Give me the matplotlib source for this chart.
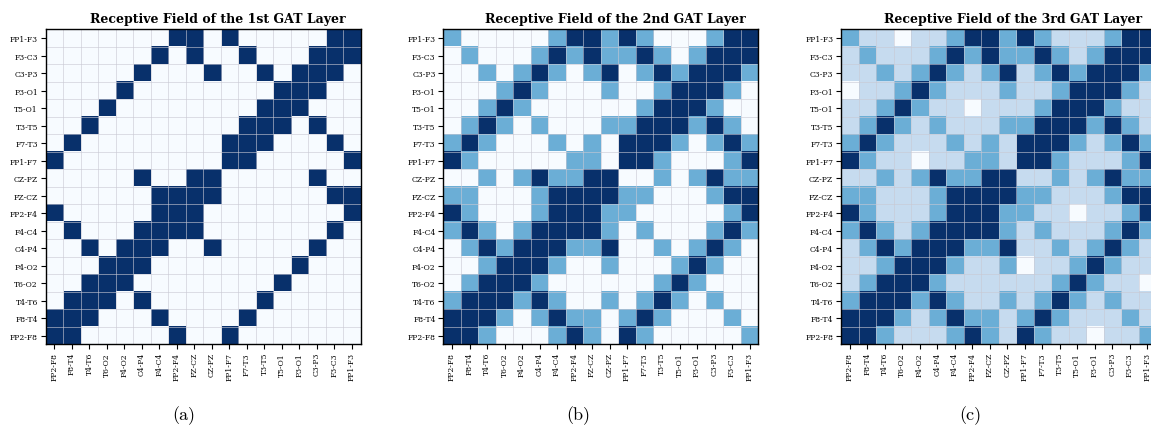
import matplotlib
matplotlib.use("Agg")
import matplotlib.pyplot as plt
from matplotlib.colors import ListedColormap, BoundaryNorm
import numpy as np

row_labels = ["FP1-F3", "F3-C3", "C3-P3", "P3-O1", "T5-O1", "T3-T5", "F7-T3", "FP1-F7",
              "CZ-PZ", "FZ-CZ", "FP2-F4", "F4-C4", "C4-P4", "P4-O2", "T6-O2", "T4-T6",
              "F8-T4", "FP2-F8"]
col_labels = row_labels[::-1]

titles = ["Receptive Field of the 1st GAT Layer",
          "Receptive Field of the 2nd GAT Layer",
          "Receptive Field of the 3rd GAT Layer"]
captions = ["(a)", "(b)", "(c)"]

layer1 = [
    [0,0,0,0,0,0,0,1,1,0,1,0,0,0,0,0,1,1],
    [0,0,0,0,0,0,1,0,1,0,0,1,0,0,0,1,1,1],
    [0,0,0,0,0,1,0,0,0,1,0,0,1,0,1,1,1,0],
    [0,0,0,0,1,0,0,0,0,0,0,0,0,1,1,1,0,0],
    [0,0,0,1,0,0,0,0,0,0,0,0,1,1,1,0,0,0],
    [0,0,1,0,0,0,0,0,0,0,0,1,1,1,0,1,0,0],
    [0,1,0,0,0,0,0,0,0,0,1,1,1,0,0,0,1,0],
    [1,0,0,0,0,0,0,0,0,0,1,1,0,0,0,0,0,1],
    [0,0,0,0,0,1,0,0,1,1,0,0,0,0,0,1,0,0],
    [0,0,0,0,0,0,1,1,1,1,0,0,0,0,0,0,1,1],
    [1,0,0,0,0,0,1,1,1,0,0,0,0,0,0,0,0,1],
    [0,1,0,0,0,1,1,1,1,0,0,0,0,0,0,0,1,0],
    [0,0,1,0,1,1,1,0,0,1,0,0,0,0,0,1,0,0],
    [0,0,0,1,1,1,0,0,0,0,0,0,0,0,1,0,0,0],
    [0,0,1,1,1,0,0,0,0,0,0,0,0,1,0,0,0,0],
    [0,1,1,1,0,1,0,0,0,0,0,0,1,0,0,0,0,0],
    [1,1,1,0,0,0,1,0,0,0,0,1,0,0,0,0,0,0],
    [1,1,0,0,0,0,0,1,0,0,1,0,0,0,0,0,0,0],
]

layer2 = [
    [1,0,0,0,0,0,1,2,2,1,2,1,0,0,0,1,2,2],
    [0,1,0,0,0,1,2,1,2,1,1,2,1,0,1,2,2,2],
    [0,0,1,0,1,2,1,0,1,2,0,1,2,1,2,2,2,1],
    [0,0,0,1,2,1,0,0,0,1,0,0,1,2,2,2,1,0],
    [0,0,1,2,1,0,0,0,0,0,0,1,2,2,2,1,0,0],
    [0,1,2,1,0,1,0,0,0,1,1,2,2,2,1,2,1,0],
    [1,2,1,0,0,0,1,0,1,0,2,2,2,1,0,1,2,1],
    [2,1,0,0,0,0,0,1,1,0,2,2,1,0,0,0,1,2],
    [0,0,1,0,1,2,1,1,2,2,0,0,1,0,1,2,1,1],
    [1,1,0,0,0,1,2,2,2,2,1,1,0,0,0,1,2,2],
    [2,1,0,0,0,1,2,2,2,1,1,0,0,0,0,0,1,2],
    [1,2,1,0,1,2,2,2,2,1,0,1,0,0,0,1,2,1],
    [0,1,2,1,2,2,2,1,1,2,0,0,1,0,1,2,1,0],
    [0,0,1,2,2,2,1,0,0,1,0,0,0,1,2,1,0,0],
    [0,1,2,2,2,1,0,0,0,0,0,0,1,2,1,0,0,0],
    [1,2,2,2,1,2,1,0,0,1,0,1,2,1,0,1,0,0],
    [2,2,2,1,0,1,2,1,1,0,1,2,1,0,0,0,1,0],
    [2,2,1,0,0,0,1,2,1,0,2,1,0,0,0,0,0,1],
]

layer3 = [
    [2,1,1,0,1,1,2,3,3,2,3,2,1,1,1,2,3,3],
    [1,2,1,1,1,2,3,2,3,2,2,3,2,1,2,3,3,3],
    [1,1,2,1,2,3,2,1,2,3,1,2,3,2,3,3,3,2],
    [0,1,1,2,3,2,1,1,1,2,1,1,2,3,3,3,2,1],
    [1,1,2,3,2,1,1,0,1,1,1,2,3,3,3,2,1,1],
    [1,2,3,2,1,2,1,1,1,2,2,3,3,3,2,3,2,1],
    [2,3,2,1,1,1,2,1,2,1,3,3,3,2,1,2,3,2],
    [3,2,1,1,0,1,1,2,2,1,3,3,2,1,1,1,2,3],
    [1,1,2,1,2,3,2,2,3,3,1,1,2,1,2,3,2,2],
    [2,2,1,1,1,2,3,3,3,3,2,2,1,1,1,2,3,3],
    [3,2,1,1,1,2,3,3,3,2,2,1,1,0,1,1,2,3],
    [2,3,2,1,2,3,3,3,3,2,1,2,1,1,1,2,3,2],
    [1,2,3,2,3,3,3,2,2,3,1,1,2,1,2,3,2,1],
    [1,1,2,3,3,3,2,1,1,2,0,1,1,2,3,2,1,1],
    [1,2,3,3,3,2,1,1,1,1,1,1,2,3,2,1,1,0],
    [2,3,3,3,2,3,2,1,1,2,1,2,3,2,1,2,1,1],
    [3,3,3,2,1,2,3,2,2,1,2,3,2,1,1,1,2,1],
    [3,3,2,1,1,1,2,3,2,1,3,2,1,1,0,1,1,2],
]

WHITE, LIGHT, MED, DARK = "#f7fbff", "#c6dbef", "#6baed6", "#08306b"
palettes = [[WHITE, DARK], [WHITE, MED, DARK], [WHITE, LIGHT, MED, DARK]]
layers = [layer1, layer2, layer3]

W, H = 1151, 427
fig = plt.figure(figsize=(W / 100, H / 100), dpi=100)

lefts = [45.7, 443.3, 841.0]
cap_x = [184, 578, 970]
bottom_px = 345.3
size_px = 315.0

for i in range(3):
    ax = fig.add_axes([lefts[i] / W, (H - bottom_px) / H, size_px / W, size_px / H])
    data = np.array(layers[i])
    cols = palettes[i]
    cmap = ListedColormap(cols)
    norm = BoundaryNorm(np.arange(-0.5, len(cols) + 0.5, 1), cmap.N)
    ax.imshow(data, cmap=cmap, norm=norm, interpolation="nearest", aspect="auto",
              extent=(-0.5, 17.5, 17.5, -0.5))
    n = len(row_labels)
    ax.set_xticks(np.arange(n))
    ax.set_yticks(np.arange(n))
    ax.set_xticklabels(col_labels, rotation=90, fontsize=5.5, family="DejaVu Serif")
    ax.set_yticklabels(row_labels, fontsize=5.5, family="DejaVu Serif")
    ax.set_xticks(np.arange(-0.5, n, 1), minor=True)
    ax.set_yticks(np.arange(-0.5, n, 1), minor=True)
    ax.grid(which="minor", color="#c9c9d3", linewidth=0.6, alpha=0.7)
    ax.grid(which="major", visible=False)
    ax.tick_params(which="minor", length=0)
    ax.tick_params(which="major", length=3.5, width=0.8, pad=2)
    for s in ax.spines.values():
        s.set_linewidth(1.0)
        s.set_color("black")
    ax.set_xlim(-0.5, 17.5)
    ax.set_ylim(17.5, -0.5)
    t = ax.set_title(titles[i], fontsize=9.0, fontweight="bold", family="DejaVu Serif", pad=5)
    t.set_x(0.545)
    fig.text(cap_x[i] / W, 1 - 416 / H, captions[i], ha="center", va="center",
             fontsize=13, family="cmr10")

fig.savefig("out.png", dpi=100)
